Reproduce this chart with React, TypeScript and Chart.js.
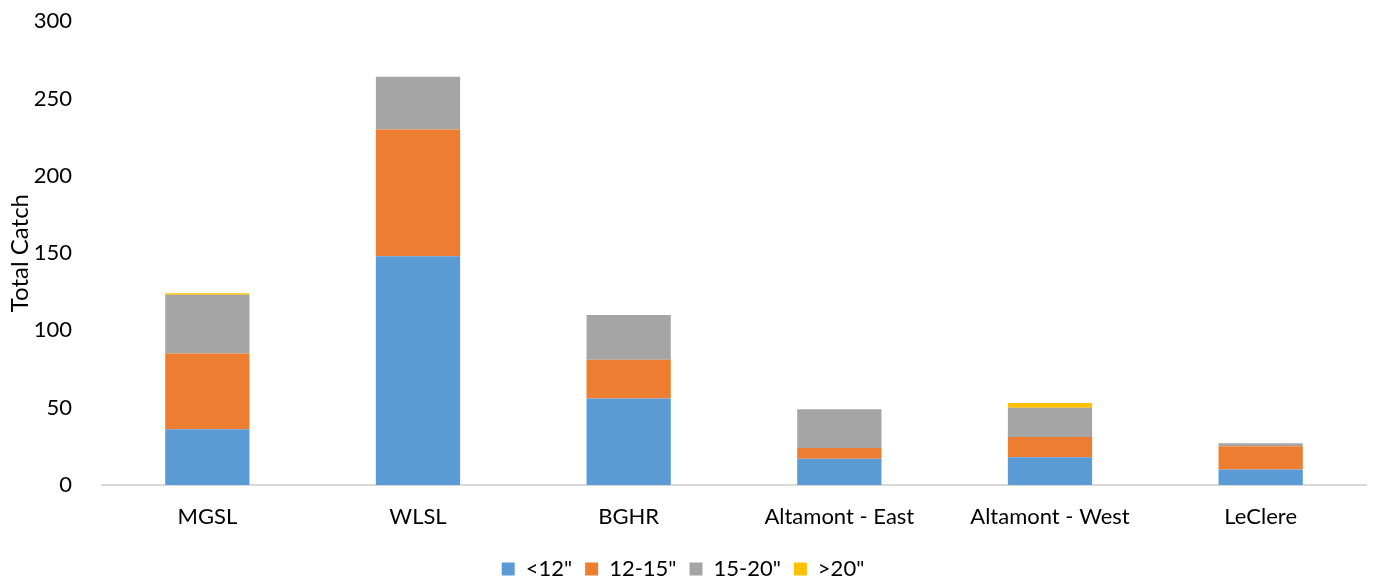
import React, { useEffect, useRef } from "react";
import { Chart, registerables } from "chart.js";

Chart.register(...registerables);

const categories = ["MGSL", "WLSL", "BGHR", "Altamont - East", "Altamont - West", "LeClere"];
const under12 = [36, 148, 56, 17, 18, 10];
const from12to15 = [49, 82, 25, 7, 13, 15];
const from15to20 = [38, 34, 29, 25, 19, 2];
const over20 = [1, 0, 0, 0, 3, 0];
const seriesLabels = ['<12"', '12-15"', '15-20"', '>20"'];
const yTicks = { min: 0, max: 300, step: 50 };

const FONT = "Lato, 'Open Sans', 'DejaVu Sans', sans-serif";
const SIZE = 22;
const CANVAS_TOP = -14;
const CANVAS_H = 615;

export default function App() {
  const ref = useRef<HTMLCanvasElement | null>(null);
  useEffect(() => {
    document.body.style.margin = "0";
    const ctx = ref.current!;
    const colors = ["#5b9bd5", "#ed7d31", "#a5a5a5", "#ffc000"];
    const values = [under12, from12to15, from15to20, over20];
    const chart = new Chart(ctx, {
      type: "bar",
      data: {
        labels: categories,
        datasets: values.map((v, i) => ({
          label: seriesLabels[i],
          data: v,
          backgroundColor: colors[i],
          borderWidth: 0,
          categoryPercentage: 1,
          barPercentage: 0.4,
        })),
      },
      options: {
        responsive: false,
        animation: false,
        maintainAspectRatio: false,
        layout: { padding: { left: 0, right: 9, top: 8, bottom: 11 } },
        plugins: {
          tooltip: { enabled: false },
          legend: {
            position: "bottom",
            labels: {
              font: { family: FONT, size: SIZE },
              color: "#000",
              boxWidth: 13,
              boxHeight: 13,
              padding: 13,
            },
          },
        },
        scales: {
          x: {
            stacked: true,
            grid: { display: false },
            border: { display: true, color: "#d9d9d9", width: 2 },
            ticks: { font: { family: FONT, size: SIZE }, color: "#000", padding: 11 },
            afterFit: (s: any) => {
              s.height = 60;
            },
          },
          y: {
            stacked: true,
            min: yTicks.min,
            max: yTicks.max,
            grid: { display: false },
            border: { display: false },
            ticks: {
              stepSize: yTicks.step,
              font: { family: FONT, size: SIZE },
              color: "#000",
              padding: 22,
            },
            title: {
              display: true,
              text: "Total Catch",
              font: { family: FONT, size: 24 },
              color: "#000",
              padding: { top: 6, bottom: 0 },
            },
            afterFit: (s: any) => {
              s.width = 102;
            },
          },
        },
      },
    });
    return () => chart.destroy();
  }, []);
  return (
    <div style={{ position: "fixed", left: 0, top: 0, width: 1375, height: 581, background: "#fff", overflow: "hidden" }}>
      <canvas
        ref={ref}
        width={1375}
        height={CANVAS_H}
        style={{ position: "absolute", left: 0, top: CANVAS_TOP, width: 1375, height: CANVAS_H }}
      />
    </div>
  );
}
